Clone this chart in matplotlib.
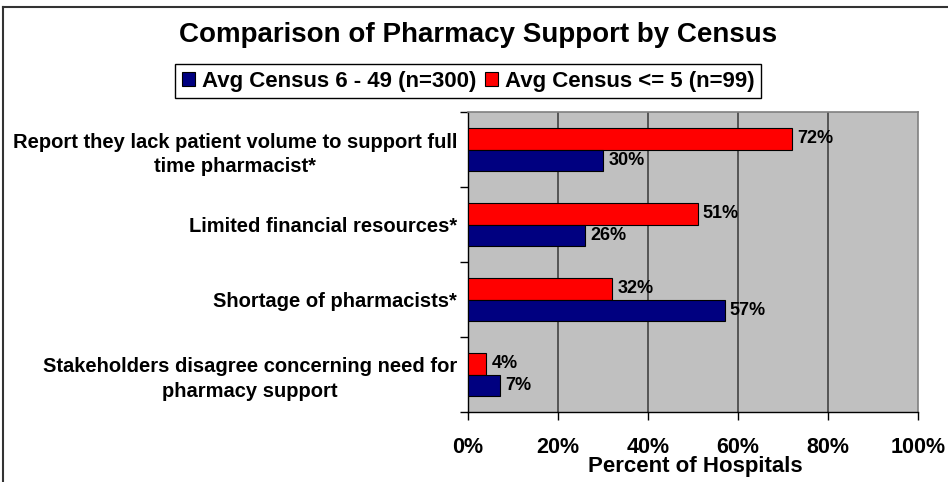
import matplotlib
matplotlib.use("Agg")
import matplotlib.pyplot as plt
from matplotlib.patches import Patch
from matplotlib.lines import Line2D
import numpy as np

plt.rcParams['font.family'] = ['Liberation Sans', 'DejaVu Sans']

categories = ["Report they lack patient volume to support full\ntime pharmacist*",
              "Limited financial resources*",
              "Shortage of pharmacists*",
              "Stakeholders disagree concerning need for\npharmacy support"]
small_census = [72, 51, 32, 4]      # Avg Census <= 5 (n=99)
large_census = [30, 26, 57, 7]      # Avg Census 6 - 49 (n=300)
series_names = ["Avg Census 6 - 49 (n=300)", "Avg Census <= 5 (n=99)"]
xticks = [0, 20, 40, 60, 80, 100]
xtick_labels = ["0%", "20%", "40%", "60%", "80%", "100%"]

W, H = 948, 482
fig = plt.figure(figsize=(W/100, H/100), dpi=100)
fig.patch.set_facecolor("white")

ax = fig.add_axes([468/W, 1-412/H, 450/W, 300/H])
ax.set_facecolor("#C0C0C0")

y = np.arange(len(categories))
h = 0.287
red = "#FF0000"
navy = "#000080"
ax.barh(y - h/2, small_census, height=h, color=red, edgecolor="black", linewidth=0.8, zorder=3)
ax.barh(y + h/2, large_census, height=h, color=navy, edgecolor="black", linewidth=0.8, zorder=3)

for i in range(len(categories)):
    ax.text(small_census[i] + 1.2, y[i] - h/2, f"{small_census[i]}%", va="center", ha="left",
            fontsize=13, fontweight="bold", zorder=4)
    ax.text(large_census[i] + 1.2, y[i] + h/2, f"{large_census[i]}%", va="center", ha="left",
            fontsize=13, fontweight="bold", zorder=4)

ax.set_xlim(0, 100)
ax.set_ylim(len(categories) - 0.5, -0.5)

ax.set_xticks(xticks)
ax.set_xticklabels(xtick_labels, fontsize=15.5, fontweight="bold")
ax.tick_params(axis="x", direction="out", length=6, width=1, pad=12, color="black")
for gx in xticks[1:-1]:
    ax.axvline(gx, color="#383838", linewidth=1.1, zorder=1)

ax.set_yticks(y)
ax.set_yticklabels(categories, fontsize=14.5, fontweight="bold", linespacing=1.38)
for lbl in ax.get_yticklabels():
    lbl.set_multialignment("center")
ax.tick_params(axis="y", which="major", length=0, pad=8)
ax.set_yticks(np.arange(-0.5, len(categories) + 0.5, 1), minor=True)
ax.tick_params(axis="y", which="minor", direction="out", length=6, width=1, color="black")

for s in ["top", "right"]:
    ax.spines[s].set_color("#808080")
    ax.spines[s].set_linewidth(1.2)
for s in ["left", "bottom"]:
    ax.spines[s].set_color("black")
    ax.spines[s].set_linewidth(1)

ax.set_xlabel("Percent of Hospitals", fontsize=16, fontweight="bold")
ax.xaxis.set_label_coords(0.505, -0.148)

fig.text(478/W, 1-35/H, "Comparison of Pharmacy Support by Census", ha="center", va="center",
         fontsize=20, fontweight="bold")

handles = [Patch(facecolor=navy, edgecolor="black", linewidth=0.8),
           Patch(facecolor=red, edgecolor="black", linewidth=0.8)]
leg = fig.legend(handles, series_names, loc="center", bbox_to_anchor=(468/W, 1-81/H), ncol=2,
                 frameon=True, fancybox=False, edgecolor="black", framealpha=1,
                 prop={"weight": "bold", "size": 16}, handlelength=0.6, handleheight=0.6,
                 handletextpad=0.3, columnspacing=0.4, borderpad=0.28, borderaxespad=0)
leg.get_frame().set_linewidth(1)

fig.add_artist(Line2D([3/W, 3/W], [0, 1-7/H], color="#333333", linewidth=1.5))
fig.add_artist(Line2D([3/W, 1], [1-7/H, 1-7/H], color="#333333", linewidth=1.5))

fig.savefig("out.png", dpi=100)
